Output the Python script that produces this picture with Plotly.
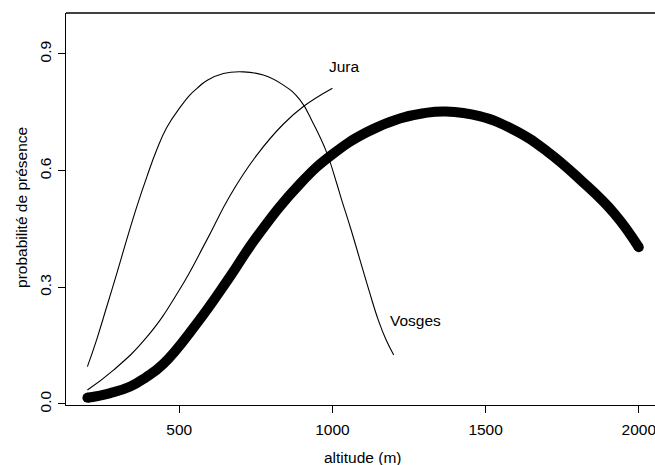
import plotly.graph_objects as go

# ---- data ----
# overall curve (thick)
alt_all = [200, 275, 340, 390, 448, 557, 665, 753, 895, 1000, 1110, 1220, 1300,
           1370, 1480, 1590, 1700, 1810, 1920, 2000]
p_all = [0.016, 0.028, 0.045, 0.068, 0.103, 0.207, 0.327, 0.430, 0.567, 0.642,
         0.698, 0.734, 0.748, 0.752, 0.740, 0.706, 0.650, 0.576, 0.490, 0.403]

# Vosges
alt_vosges = [200, 230, 263, 296, 328, 361, 394, 426, 459, 502, 535, 557, 590,
              644, 709, 774, 840, 894, 937, 981, 1014, 1030, 1060, 1090, 1120,
              1150, 1175, 1200]
p_vosges = [0.096, 0.165, 0.250, 0.336, 0.422, 0.507, 0.584, 0.653, 0.711,
            0.762, 0.795, 0.811, 0.832, 0.850, 0.854, 0.846, 0.820, 0.782,
            0.722, 0.647, 0.567, 0.525, 0.450, 0.370, 0.290, 0.215, 0.165, 0.126]

# Jura
alt_jura = [200, 285, 395, 500, 590, 665, 753, 840, 905, 1000]
p_jura = [0.036, 0.087, 0.173, 0.293, 0.422, 0.535, 0.640, 0.720, 0.765, 0.812]

labels = ["Jura", "Vosges"]
label_x = [1038, 1270]
label_y = [0.869, 0.214]

x_ticks = [500, 1000, 1500, 2000]
y_ticks = [0.0, 0.3, 0.6, 0.9]
y_ticktext = ["0.0", "0.3", "0.6", "0.9"]

FONT = "Liberation Sans, Arial, sans-serif"
FS = 15.5

fig = go.Figure()

fig.add_trace(go.Scatter(x=alt_vosges, y=p_vosges, mode="lines",
                         line=dict(color="black", width=1.1, shape="spline", smoothing=1.3)))
fig.add_trace(go.Scatter(x=alt_jura, y=p_jura, mode="lines",
                         line=dict(color="black", width=1.1, shape="spline", smoothing=1.3)))
fig.add_trace(go.Scatter(x=alt_all, y=p_all, mode="lines",
                         line=dict(color="black", width=10, shape="spline", smoothing=1.3)))
# round ends for the thick curve, like R's round line caps
fig.add_trace(go.Scatter(x=[alt_all[0], alt_all[-1]], y=[p_all[0], p_all[-1]],
                         mode="markers", marker=dict(color="black", size=10)))

for t, x, y in zip(labels, label_x, label_y):
    fig.add_annotation(x=x, y=y, text=t, showarrow=False,
                       font=dict(size=FS, color="black", family=FONT))

# axis titles
fig.add_annotation(xref="paper", yref="paper", x=0.5034, y=-0.1327,
                   text="altitude (m)", showarrow=False,
                   xanchor="center", yanchor="middle",
                   font=dict(size=FS, color="black", family=FONT))
fig.add_annotation(xref="paper", yref="paper", x=-0.0747, y=0.5026,
                   text="probabilité de présence", showarrow=False, textangle=-90,
                   xanchor="center", yanchor="middle",
                   font=dict(size=FS, color="black", family=FONT))

# top edge of the box (right edge falls outside the picture)
fig.add_shape(type="line", xref="paper", yref="paper", x0=0, x1=1, y0=1, y1=1,
              line=dict(color="black", width=1.3))

fig.update_xaxes(range=[130.1, 2053], tickvals=x_ticks, ticks="outside",
                 ticklen=7, tickwidth=1, tickcolor="black", ticklabelstandoff=3,
                 ticklabeloverflow="allow",
                 showline=True, linecolor="black", linewidth=1.3,
                 showgrid=False, zeroline=False,
                 tickfont=dict(size=FS, color="black", family=FONT))
fig.update_yaxes(range=[-0.0026, 1.0054], tickvals=y_ticks, ticktext=y_ticktext,
                 ticks="outside", ticklen=7, tickwidth=1, tickcolor="black",
                 tickangle=-90, ticklabelstandoff=1,
                 showline=True, linecolor="black", linewidth=1.3,
                 showgrid=False, zeroline=False,
                 tickfont=dict(size=FS, color="black", family=FONT))

fig.update_layout(width=655, height=465, showlegend=False, hovermode=False,
                  margin=dict(l=66, r=0, t=13, b=60),
                  plot_bgcolor="white", paper_bgcolor="white")

# drop the browser's default body margin so the figure sits at the top-left corner
fig.write_html("out.html", config={"displayModeBar": False},
               post_script="document.body.style.margin='0';"
                           "document.body.style.overflow='hidden';")
